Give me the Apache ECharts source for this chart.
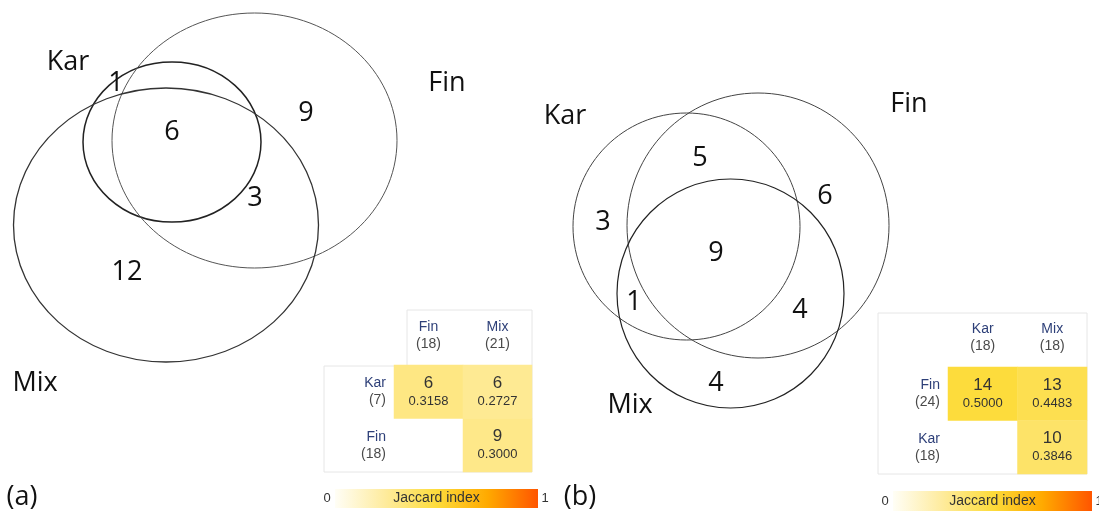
<!DOCTYPE html>
<html>
<head>
<meta charset="utf-8">
<script src="https://cdn.jsdelivr.net/npm/echarts@6/dist/echarts.min.js"></script>
<style>
  html, body { margin: 0; padding: 0; background: #fff; }
  #chart { width: 1099px; height: 515px; }
</style>
</head>
<body>
<div id="chart"></div>
<script>
// ---------- data ----------
// (a) Venn: set names and region counts
const setNamesA = ['Kar', 'Fin', 'Mix'];
const regionCountsA = [1, 6, 9, 3, 12];
// (b) Venn: set names and region counts
const setNamesB = ['Kar', 'Fin', 'Mix'];
const regionCountsB = [5, 6, 3, 9, 1, 4, 4];

// (a) pairwise table
const colNamesA = ['Fin', 'Mix'];
const colSizesA = [18, 21];
const rowNamesA = ['Kar', 'Fin'];
const rowSizesA = [7, 18];
const sharedA = [6, 6, 9];
const jaccardA = [0.3158, 0.2727, 0.3000];
const cellIndexA = [[0, 0], [1, 0], [1, 1]];   // [column, row]

// (b) pairwise table
const colNamesB = ['Kar', 'Mix'];
const colSizesB = [18, 18];
const rowNamesB = ['Fin', 'Kar'];
const rowSizesB = [24, 18];
const sharedB = [14, 13, 10];
const jaccardB = [0.5000, 0.4483, 0.3846];
const cellIndexB = [[0, 0], [1, 0], [1, 1]];

const scaleTicks = ['0', '1'];
const scaleTitle = 'Jaccard index';

// ---------- layout (page units) ----------
// ellipses: [cx, cy, rx, ry] in order Kar, Fin, Mix
const shapesA = [[172, 142, 89, 80], [254.5, 140.5, 142.5, 127.5], [166, 225, 152.5, 137]];
const shapesB = [[686.5, 226.5, 113.5, 113.5], [758, 225.5, 131, 132.5], [730.5, 293.5, 113.5, 114.5]];
const strokeA = [[1.5, '#222'], [1, '#555'], [1.3, '#333']];
const strokeB = [[1, '#444'], [1, '#444'], [1.2, '#222']];
const setSpotsA = [[68, 62], [447, 83], [35, 383]];
const setSpotsB = [[565, 116], [909, 104], [630, 405]];
const regionSpotsA = [[116, 83], [172, 132], [306, 113], [255, 198], [127, 272]];
const regionSpotsB = [[700, 158], [825, 196], [603, 222], [716, 253], [634, 302], [800, 310], [716, 383]];
const panelTags = [['(a)', 22, 497], ['(b)', 580, 497]];
// colour scale bars: [x, y, width, height]
const scaleBoxes = [[335, 489, 203, 19], [893, 491, 199, 20]];

const vennFont = '"Open Sans", sans-serif';
const tableFont = '"Liberation Sans", Arial, sans-serif';
const rampColors = ['#fffef6', '#feeb9c', '#fddc3c', '#ffaa00', '#ff5500'];

const ellipseData = [];
shapesA.forEach((s, i) => ellipseData.push(s.concat(strokeA[i])));
shapesB.forEach((s, i) => ellipseData.push(s.concat(strokeB[i])));

const textData = [];
setNamesA.forEach((n, i) => textData.push([setSpotsA[i][0], setSpotsA[i][1], n]));
regionCountsA.forEach((v, i) => textData.push([regionSpotsA[i][0], regionSpotsA[i][1], String(v)]));
setNamesB.forEach((n, i) => textData.push([setSpotsB[i][0], setSpotsB[i][1], n]));
regionCountsB.forEach((v, i) => textData.push([regionSpotsB[i][0], regionSpotsB[i][1], String(v)]));
panelTags.forEach(t => textData.push([t[1], t[2], t[0]]));

function headerLabel(names, sizes) {
  return (v, i) => '{n|' + names[i] + '}\n{c|(' + sizes[i] + ')}';
}
const headerRich = {
  n: { color: '#2d3f78', fontSize: 14, lineHeight: 17, fontFamily: tableFont },
  c: { color: '#4a4a4a', fontSize: 14, lineHeight: 17, fontFamily: tableFont }
};

function tableAxes(gi, cols, colSizes, rows, rowSizes) {
  return {
    x: {
      type: 'category', gridIndex: gi, data: cols, position: 'top',
      axisLine: { show: false }, axisTick: { show: false }, splitLine: { show: false },
      axisLabel: { formatter: headerLabel(cols, colSizes), rich: headerRich, fontSize: 14, margin: 12, interval: 0 }
    },
    y: {
      type: 'category', gridIndex: gi, data: rows, inverse: true,
      axisLine: { show: false }, axisTick: { show: false }, splitLine: { show: false },
      axisLabel: { formatter: headerLabel(rows, rowSizes), rich: headerRich, fontSize: 14, margin: 8, align: 'right' }
    }
  };
}
const axA = tableAxes(1, colNamesA, colSizesA, rowNamesA, rowSizesA);
const axB = tableAxes(2, colNamesB, colSizesB, rowNamesB, rowSizesB);

function heatSeries(ai, cells, jac, shared) {
  return {
    type: 'heatmap', xAxisIndex: ai, yAxisIndex: ai,
    data: cells.map((c, i) => [c[0], c[1], jac[i]]),
    itemStyle: { borderWidth: 0 },
    emphasis: { disabled: true },
    label: {
      show: true,
      formatter: p => '{n|' + shared[p.dataIndex] + '}\n{j|' + jac[p.dataIndex].toFixed(4) + '}',
      rich: {
        n: { fontSize: 17, lineHeight: 19, color: '#333', fontFamily: tableFont },
        j: { fontSize: 13, lineHeight: 17, color: '#333', fontFamily: tableFont }
      }
    }
  };
}

// colour mapping of the table cells (scale drawn separately below)
function scaleMap(si) {
  return {
    type: 'continuous', min: 0, max: 1, seriesIndex: si, dimension: 2,
    show: false, inRange: { color: rampColors }
  };
}

function scaleGraphics(box) {
  const [x, y, w, h] = box;
  const stops = rampColors.map((c, i) => ({ offset: i / (rampColors.length - 1), color: c }));
  return [
    { type: 'rect', silent: true, shape: { x: x, y: y, width: w, height: h },
      style: { fill: new echarts.graphic.LinearGradient(0, 0, 1, 0, stops) } },
    { type: 'text', silent: true, x: x + w / 2, y: y + h / 2,
      style: { text: scaleTitle, fontSize: 14, fontFamily: tableFont, fill: '#333', align: 'center', verticalAlign: 'middle' } },
    { type: 'text', silent: true, x: x - 8, y: y + h / 2,
      style: { text: scaleTicks[0], fontSize: 13, fontFamily: tableFont, fill: '#333', align: 'center', verticalAlign: 'middle' } },
    { type: 'text', silent: true, x: x + w + 7, y: y + h / 2,
      style: { text: scaleTicks[1], fontSize: 13, fontFamily: tableFont, fill: '#333', align: 'center', verticalAlign: 'middle' } }
  ];
}

const chart = echarts.init(document.getElementById('chart'), null, { renderer: 'canvas' });
chart.setOption({
  animation: false,
  backgroundColor: '#fff',
  grid: [
    { left: 0, top: 0, width: 1099, height: 515 },
    { left: 394, top: 365, width: 138, height: 107 },
    { left: 948, top: 367, width: 139, height: 107 }
  ],
  xAxis: [
    { type: 'value', gridIndex: 0, min: 0, max: 1099, show: false },
    axA.x, axB.x
  ],
  yAxis: [
    { type: 'value', gridIndex: 0, min: 0, max: 515, inverse: true, show: false },
    axA.y, axB.y
  ],
  visualMap: [scaleMap(2), scaleMap(3)],
  graphic: [
    { type: 'polyline', silent: true, z: -1,
      shape: { points: [[407, 310], [532, 310], [532, 472], [324, 472], [324, 366], [407, 366], [407, 310]] },
      style: { stroke: '#e6e6e6', lineWidth: 1, fill: '#fff' } },
    { type: 'rect', silent: true, z: -1,
      shape: { x: 878, y: 313, width: 209, height: 161 },
      style: { stroke: '#e6e6e6', lineWidth: 1, fill: '#fff' } }
  ].concat(scaleGraphics(scaleBoxes[0]), scaleGraphics(scaleBoxes[1])),
  series: [
    {
      type: 'custom', coordinateSystem: 'cartesian2d', xAxisIndex: 0, yAxisIndex: 0,
      data: ellipseData, silent: true, clip: false,
      renderItem: (params, api) => {
        const c = api.coord([api.value(0), api.value(1)]);
        const s = api.size([api.value(2), api.value(3)]);
        const d = ellipseData[params.dataIndex];
        return {
          type: 'ellipse',
          shape: { cx: c[0], cy: c[1], rx: s[0], ry: s[1] },
          style: { fill: 'none', stroke: d[5], lineWidth: d[4] }
        };
      }
    },
    {
      type: 'custom', coordinateSystem: 'cartesian2d', xAxisIndex: 0, yAxisIndex: 0,
      data: textData, silent: true, clip: false,
      renderItem: (params, api) => {
        const c = api.coord([api.value(0), api.value(1)]);
        return {
          type: 'text', x: c[0], y: c[1],
          style: {
            text: textData[params.dataIndex][2], fontSize: 27, fontFamily: vennFont,
            fill: '#111', align: 'center', verticalAlign: 'middle'
          }
        };
      }
    },
    heatSeries(1, cellIndexA, jaccardA, sharedA),
    heatSeries(2, cellIndexB, jaccardB, sharedB)
  ]
});
</script>
</body>
</html>
